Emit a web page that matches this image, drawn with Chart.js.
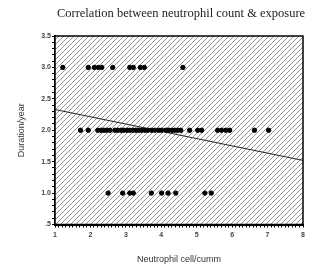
<!DOCTYPE html>
<html><head><meta charset="utf-8">
<script src="https://cdn.jsdelivr.net/npm/chart.js@4/dist/chart.umd.min.js"></script>
<style>html,body{margin:0;padding:0;background:#fff}#c{display:block}</style>
</head><body>
<canvas id="c" width="336" height="270"></canvas>
<script>
const titleText = 'Correlation between neutrophil count & exposure';
const xTitle = 'Neutrophil cell/cumm';
const yTitle = 'Duration/year';
// neutrophil counts observed at each exposure duration
const countsAt3 = [1.22, 1.94, 2.11, 2.22, 2.32, 2.63, 3.11, 3.21, 3.41, 3.52, 4.61];
const countsAt2 = [1.72, 1.94, 2.21, 2.30, 2.38, 2.46, 2.55, 2.69, 2.77, 2.86, 2.94, 3.03, 3.11, 3.20, 3.28, 3.37, 3.45, 3.54, 3.62, 3.73, 3.82, 3.93, 4.01, 4.13, 4.21, 4.30, 4.38, 4.46, 4.55, 4.80, 5.03, 5.14, 5.59, 5.70, 5.82, 5.93, 6.63, 7.03];
const countsAt1 = [2.50, 2.91, 3.11, 3.21, 3.72, 4.01, 4.19, 4.41, 5.23, 5.41];
const durations = [3, 2, 1];
// fitted regression line end points
const fitX = [1, 8];
const fitY = [2.33, 1.52];

const pts = [];
[countsAt3, countsAt2, countsAt1].forEach((arr, i) => arr.forEach(x => pts.push({x, y: durations[i]})));
const fitPts = fitX.map((x, i) => ({x, y: fitY[i]}));

function makeHatch() {
  const s = 5, c = document.createElement('canvas');
  c.width = s; c.height = s;
  const g = c.getContext('2d');
  g.fillStyle = '#fff'; g.fillRect(0, 0, s, s);
  g.strokeStyle = '#777'; g.lineWidth = 0.8;
  g.beginPath();
  g.moveTo(0, s); g.lineTo(s, 0);
  g.moveTo(-1, 1); g.lineTo(1, -1);
  g.moveTo(s - 1, s + 1); g.lineTo(s + 1, s - 1);
  g.stroke();
  return g.createPattern(c, 'repeat');
}

const areaPlugin = {
  id: 'area',
  beforeDatasetsDraw(chart) {
    const {ctx, chartArea: a} = chart;
    ctx.save();
    ctx.fillStyle = makeHatch();
    ctx.fillRect(a.left, a.top, a.right - a.left, a.bottom - a.top);
    ctx.restore();
  },
  afterDatasetsDraw(chart) {
    const {ctx, chartArea: a} = chart;
    ctx.save();
    ctx.strokeStyle = '#000'; ctx.lineWidth = 1.5;
    ctx.strokeRect(a.left, a.top, a.right - a.left, a.bottom - a.top);
    ctx.restore();
  }
};

const tickFont = {family: 'Liberation Sans', size: 7, weight: 'bold'};
new Chart(document.getElementById('c'), {
  type: 'scatter',
  data: {
    datasets: [
      {data: pts, backgroundColor: '#000', borderColor: '#000', pointRadius: 2.2, pointHoverRadius: 2.2},
      {type: 'line', data: fitPts, borderColor: '#222', borderWidth: 1, pointRadius: 0, fill: false}
    ]
  },
  options: {
    responsive: false, animation: false,
    layout: {padding: {left: 26, right: 0, top: 0, bottom: 0}},
    plugins: {
      legend: {display: false}, tooltip: {enabled: false},
      title: {display: true, text: titleText, color: '#222',
        font: {family: 'Liberation Serif', size: 12.5, weight: 'normal'}, padding: {top: 6, bottom: 15}}
    },
    scales: {
      x: {
        type: 'linear', min: 1, max: 8,
        afterFit(s) { s.height = 45.5; },
        grid: {drawOnChartArea: false, drawTicks: true, tickLength: 3, color: '#000'},
        border: {display: true, color: '#000', width: 2},
        ticks: {stepSize: 0.1, autoSkip: false, maxRotation: 0, padding: 3, color: '#444', font: tickFont,
          callback: v => (Math.abs(v - Math.round(v)) < 1e-6 ? String(Math.round(v)) : '')},
        title: {display: true, text: xTitle, color: '#333', font: {family: 'Liberation Sans', size: 9}, padding: {top: 0, bottom: 5}}
      },
      y: {
        type: 'linear', min: 0.5, max: 3.5,
        afterFit(s) { s.width = 29; },
        grid: {drawOnChartArea: false, drawTicks: true, tickLength: 3, color: '#000'},
        border: {display: true, color: '#000', width: 2},
        ticks: {stepSize: 0.1, autoSkip: false, padding: 1, color: '#444', font: tickFont,
          callback: v => { const t = Math.round(v * 10); if (t % 5 !== 0) return ''; const s = (t / 10).toFixed(1); return s.startsWith('0') ? s.slice(1) : s; }},
        title: {display: true, text: yTitle, color: '#333', font: {family: 'Liberation Sans', size: 9}, padding: {top: -10, bottom: 0}}
      },
      y2: {
        position: 'right', display: true,
        afterFit(s) { s.width = 33; },
        grid: {display: false}, border: {display: false}, ticks: {display: false}
      }
    }
  },
  plugins: [areaPlugin]
});
</script>
</body></html>
